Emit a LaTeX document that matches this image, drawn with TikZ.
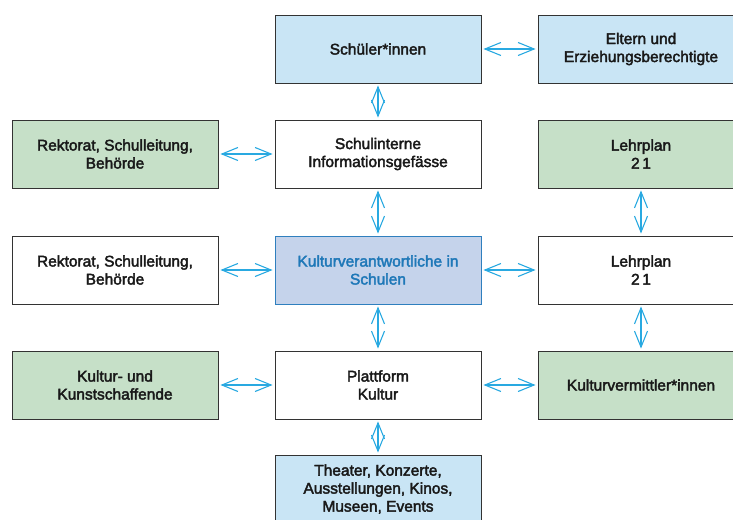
\documentclass[tikz,border=0pt]{standalone}
\usepackage{fontspec}
\setmainfont{Liberation Sans}
\newfontfamily\boxfont{Liberation Sans}[RawFeature={embolden=2.5}]
\usetikzlibrary{arrows.meta}
\definecolor{lblue}{HTML}{C9E5F5}
\definecolor{lgreen}{HTML}{C6E0C8}
\definecolor{cblue}{HTML}{C5D3EB}
\definecolor{cborder}{HTML}{2F7FBE}
\definecolor{ctext}{HTML}{1F78B8}
\definecolor{arr}{HTML}{29A9E1}
\definecolor{bord}{HTML}{333333}
\tikzset{
  box/.style={draw=bord, line width=0.9pt, minimum width=206pt, minimum height=68pt,
    align=center, inner sep=0pt, font=\boxfont\fontsize{15.5}{18}\selectfont, text=black!90},
  bluebox/.style={box, fill=lblue},
  greenbox/.style={box, fill=lgreen},
  whitebox/.style={box, fill=white},
  centerbox/.style={box, fill=cblue, draw=cborder, text=ctext},
  link/.style={draw=arr, line width=1.1pt, {Straight Barb[length=16pt,width=13pt]}-{Straight Barb[length=16pt,width=13pt]}, shorten <=2pt, shorten >=2pt}
}
\begin{document}
\begin{tikzpicture}[x=1pt,y=1pt]
\useasboundingbox (0,0) rectangle (733,-519);
% row 1
\node[bluebox] (schueler) at (378,-49) {Schüler*innen};
\node[bluebox] (eltern) at (641,-49) {Eltern und\\Erziehungsberechtigte};
% row 2
\node[greenbox] (rekt1) at (115,-154) {Rektorat, Schulleitung,\\Behörde};
\node[whitebox] (intern) at (378,-154) {Schulinterne\\Informationsgefässe};
\node[greenbox] (lp1) at (641,-154) {Lehrplan\\2\,1};
% row 3
\node[whitebox] (rekt2) at (115,-270) {Rektorat, Schulleitung,\\Behörde};
\node[centerbox] (kv) at (378,-270) {Kulturverantwortliche in\\Schulen};
\node[whitebox] (lp2) at (641,-270) {Lehrplan\\2\,1};
% row 4
\node[greenbox] (kunst) at (115,-385) {Kultur- und\\Kunstschaffende};
\node[whitebox] (platt) at (378,-385) {Plattform\\Kultur};
\node[greenbox] (verm) at (641,-385) {Kulturvermittler*innen};
% row 5
\node[bluebox] (theater) at (378,-489) {Theater, Konzerte,\\Ausstellungen, Kinos,\\Museen, Events};
% connectors
\draw[link] (schueler.east) -- (eltern.west);
\draw[link] (schueler.south) -- (intern.north);
\draw[link] (rekt1.east) -- (intern.west);
\draw[link] (intern.south) -- (kv.north);
\draw[link] (lp1.south) -- (lp2.north);
\draw[link] (rekt2.east) -- (kv.west);
\draw[link] (kv.east) -- (lp2.west);
\draw[link] (kv.south) -- (platt.north);
\draw[link] (lp2.south) -- (verm.north);
\draw[link] (kunst.east) -- (platt.west);
\draw[link] (platt.east) -- (verm.west);
\draw[link] (platt.south) -- (theater.north);
\end{tikzpicture}
\end{document}
